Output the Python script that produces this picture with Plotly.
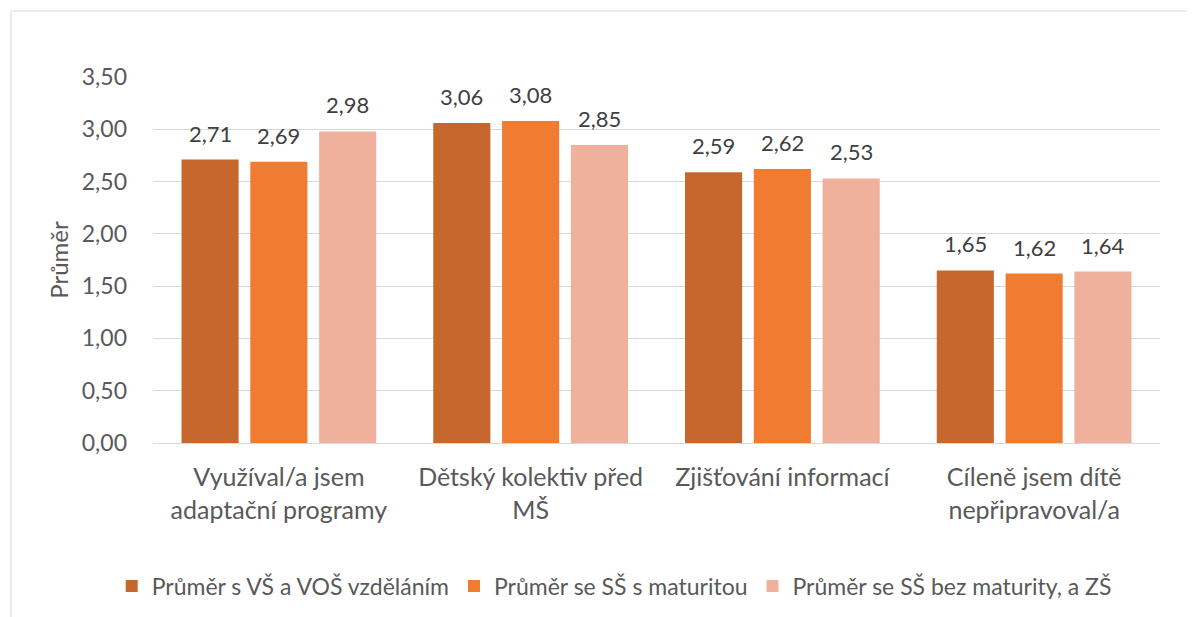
import plotly.graph_objects as go

categories = ["Využíval/a jsem<br>adaptační programy", "Dětský kolektiv před<br>MŠ",
              "Zjišťování informací", "Cíleně jsem dítě<br>nepřipravoval/a"]
series_names = ["Průměr s VŠ a VOŠ vzděláním", "Průměr se SŠ s maturitou",
                "Průměr se SŠ bez maturity, a ZŠ"]
vals_vs = [2.71, 3.06, 2.59, 1.65]
vals_ss_mat = [2.69, 3.08, 2.62, 1.62]
vals_ss_bez = [2.98, 2.85, 2.53, 1.64]
y_ticks = [0, 0.5, 1.0, 1.5, 2.0, 2.5, 3.0, 3.5]

colors = ["#C6672D", "#F07C31", "#EFB19B"]
FONT = "Lato"
GRAY = "#595959"

# page body has 8px margin; compensate
L, T = 145, 69
PW, PH = 1007, 366
W, H = 1195, 617
BARGAP = 0.18

fig = go.Figure()
series = [vals_vs, vals_ss_mat, vals_ss_bez]
for name, vals, col in zip(series_names, series, colors):
    fig.add_trace(go.Bar(
        x=categories, y=vals, name=name,
        marker=dict(color=col, line=dict(width=0)),
        cliponaxis=False,
    ))

slot = PW / len(categories) * (1 - BARGAP) / len(series)
annotations = []
for i, vals in enumerate(series):
    for c, v in zip(categories, vals):
        annotations.append(dict(
            x=c, y=v, xref="x", yref="y", text=f"{v:.2f}".replace(".", ","),
            showarrow=False, yanchor="bottom", xanchor="center",
            xshift=(i - 1) * slot, yshift=11,
            font=dict(size=22, color="#404040", family=FONT)))

fig.update_layout(
    width=W, height=H,
    paper_bgcolor="white", plot_bgcolor="white",
    margin=dict(l=L, r=W - L - PW, t=T, b=H - T - PH, autoexpand=False),
    barmode="group", bargap=BARGAP, bargroupgap=0.17,
    separators=", ",
    font=dict(family=FONT, color=GRAY, size=22),
    showlegend=True,
    legend=dict(orientation="h", x=0.458, xanchor="center",
                y=-(578 - T - PH) / PH, yanchor="middle",
                font=dict(size=23, color=GRAY, family=FONT), itemwidth=30,
                traceorder="normal"),
    xaxis=dict(showline=False, ticks="", tickfont=dict(size=25, color=GRAY),
               ticklabelstandoff=17),
    yaxis=dict(range=[0, 3.5], tickvals=y_ticks, tickformat=".2f",
               showgrid=True, gridcolor="#D9D9D9", gridwidth=1,
               zeroline=True, zerolinecolor="#D9D9D9", zerolinewidth=1,
               tickfont=dict(size=23, color=GRAY), ticks="", ticklabelstandoff=25,
               title=dict(text="Průměr", font=dict(size=24, color=GRAY), standoff=6)),
    annotations=annotations,
    shapes=[dict(type="rect", xref="paper", yref="paper",
                 x0=(3 - L) / PW, x1=(W + 10 - L) / PW,
                 y0=-(H + 10 - T - PH) / PH, y1=1 + (T - 3) / PH,
                 line=dict(color="#D9D9D9", width=1), fillcolor="rgba(0,0,0,0)", layer="below")],
)

fig.write_html("out.html")
